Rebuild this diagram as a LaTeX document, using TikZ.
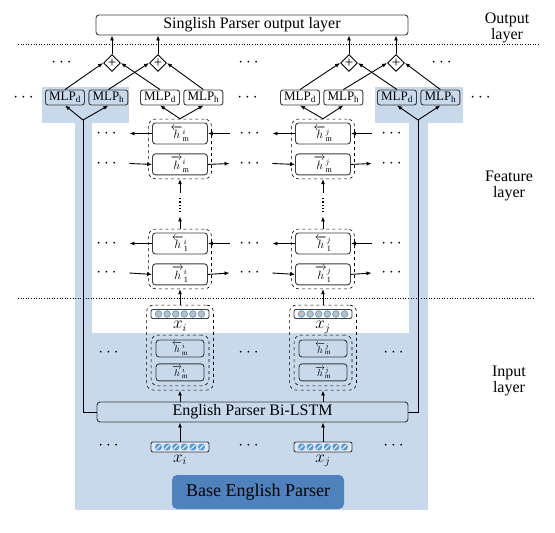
\documentclass[tikz,border=0pt]{standalone}
\usepackage{amsmath}
\usepackage{fontspec}
\setmainfont{Liberation Serif}
\usetikzlibrary{arrows.meta, positioning, fit, shapes.geometric}

\definecolor{bgblue}{RGB}{201,217,236}
\definecolor{baseblue}{RGB}{79,129,189}
\definecolor{dotblue}{RGB}{91,155,213}
\definecolor{dotgray}{RGB}{191,191,191}
\definecolor{edgegray}{RGB}{60,60,60}

\newcommand{\fsz}[1]{\fontsize{#1}{#1}\selectfont}
\newcommand{\hback}[2]{$\overleftarrow{h}^{#1}_{\mathrm{#2}}$}
\newcommand{\hfwd}[2]{$\overrightarrow{h}^{#1}_{\mathrm{#2}}$}

\begin{document}
\begin{tikzpicture}[x=1pt, y=-1pt, >={Latex[length=5pt,width=4pt]}, line width=0.9pt]
        \tikzset{
            out_box/.style={draw=edgegray, fill=white, rounded corners=3pt, minimum width=312pt, minimum height=20pt, inner sep=0pt, font=\fsz{16}},
            mlp_box/.style={draw=edgegray, rounded corners=2.5pt, minimum width=39pt, minimum height=15pt, inner sep=0pt, font=\fsz{13}},
            plus_node/.style={draw, diamond, minimum size=17pt, inner sep=0pt, font=\fsz{15}},
            h_box/.style={draw=edgegray, fill=white, rounded corners=3pt, minimum width=55pt, minimum height=21pt, inner sep=0pt, font=\fsz{12}},
            h_small/.style={h_box, fill=none, minimum width=48pt, minimum height=17pt, font=\fsz{10}},
            dash_group/.style={draw, dashed, rounded corners=7pt, line width=0.6pt},
            emb_box/.style={draw=edgegray, rounded corners=2pt, minimum width=58pt, minimum height=9pt, inner sep=0pt},
            dots/.style={inner sep=0pt, minimum width=42pt, font=\fsz{16}},
            side_label/.style={align=center, font=\fsz{16}}
        }
        \useasboundingbox (0,0) rectangle (555,533);
        % blue region of the base parser
        \fill[bgblue] (42,87) rectangle (129,123);
        \fill[bgblue] (375,87) rectangle (463,123);
        \fill[bgblue] (75,123) rectangle (428,510);
        \fill[white] (92,123) rectangle (409,333);
        \draw[dotted, line width=0.6pt] (18,44) -- (540,44);
        \draw[dotted, line width=0.6pt] (18,298) -- (535,298);

        \node[out_box] (out) at (252,25) {Singlish Parser output layer};
        \node[side_label] (lab-out) at (507,28) {Output\\layer};
        \node[side_label] (lab-feat) at (509,186) {Feature\\layer};
        \node[side_label] (lab-in) at (509,381) {Input\\layer};

        \node[plus_node] (plus-dl) at (112,63) {+};
        \node[plus_node] (plus-hl) at (158,63) {+};
        \node[plus_node] (plus-dr) at (349,63) {+};
        \node[plus_node] (plus-hr) at (396,63) {+};
        \foreach \n/\x in {bl/65, i/160, j/300, br/397} {
            \node[mlp_box] (mlpd-\n) at (\x,97.5) {MLP$_\mathrm{d}$};
            \node[mlp_box, right=3.5pt of mlpd-\n] (mlph-\n) {MLP$_\mathrm{h}$};
        }
        \draw[->] (mlpd-bl.north) -- (plus-dl.west);
        \draw[->] (mlpd-i.north) -- (plus-dl.east);
        \draw[->] (mlph-bl.north) -- (plus-hl.west);
        \draw[->] (mlph-i.north) -- (plus-hl.east);
        \draw[->] (mlpd-j.north) -- (plus-dr.west);
        \draw[->] (mlpd-br.north) -- (plus-dr.east);
        \draw[->] (mlph-j.north) -- (plus-hr.west);
        \draw[->] (mlph-br.north) -- (plus-hr.east);
        \foreach \n in {dl, hl, dr, hr}
            \draw[->] (plus-\n.north) -- (plus-\n.north |- out.south);

        % feature and input layer columns
        \foreach \c/\x in {i/180, j/323} {
            \node[h_box] (hmb-\c) at (\x,133.5) {\hback{\c}{m}};
            \node[h_box, below=9pt of hmb-\c] (hmf-\c) {\hfwd{\c}{m}};
            \node[dash_group, fit=(hmb-\c)(hmf-\c), inner sep=3.5pt] (gm-\c) {};
            \node[h_box] (h1b-\c) at (\x,243.5) {\hback{\c}{1}};
            \node[h_box, below=9pt of h1b-\c] (h1f-\c) {\hfwd{\c}{1}};
            \node[dash_group, fit=(h1b-\c)(h1f-\c), inner sep=3.5pt] (g1-\c) {};
            \node[minimum height=23pt, inner sep=0pt] (vd-\c) at (\x,204.5) {};
            \draw[dotted, line width=1.3pt, shorten <=4pt, shorten >=4pt] (vd-\c.south) -- (vd-\c.north);
            \draw[->] (g1-\c.north) -- (vd-\c.south);
            \draw[->] (vd-\c.north) -- (gm-\c.south);

            \node[emb_box, fill=white] (et-\c) at (\x,314) {};
            \foreach \k in {0,...,5}
                \draw[dotblue, fill=dotgray, line width=0.7pt] (\x-21.5+\k*8.6,314) circle (3.3pt);
            \node[font=\fsz{16}, inner sep=0pt, below=2pt of et-\c] (xt-\c) {$x_{\c}$};
            \node[h_small] (ib-\c) at (\x,348.5) {\hback{\c}{m}};
            \node[h_small, below=6pt of ib-\c] (if-\c) {\hfwd{\c}{m}};
            \node[dash_group, fit=(ib-\c)(if-\c), inner sep=4.5pt] (gi-\c) {};
            \node[dash_group, fit=(et-\c)(xt-\c)(gi-\c), inner sep=4pt] (go-\c) {};
            \draw[->] (go-\c.north) -- (g1-\c.south);

            \node[emb_box, minimum height=10pt, fill=bgblue!60!white] (eb-\c) at (\x,447) {};
            \foreach \k in {0,...,5} {
                \fill[dotblue] (\x-21.5+\k*8.6,447) circle (3.5pt);
                \draw[white, line width=0.9pt] (\x-23.3+\k*8.6,448.8) -- (\x-19.7+\k*8.6,445.2);
            }
            \node[font=\fsz{16}, inner sep=0pt, below=2pt of eb-\c] (xb-\c) {$x_{\c}$};
        }

        % horizontal recurrences
        \foreach \r/\y in {mb/133.5, mf/163.5, 1b/243.5, 1f/273} {
            \node[dots] (dl-\r) at (108,\y) {$\cdots$};
            \node[dots] (dm-\r) at (251,\y) {$\cdots$};
            \node[dots] (dr-\r) at (393,\y) {$\cdots$};
        }
        \foreach \r in {mb, 1b} {
            \draw[->] (h\r-i.west) -- (dl-\r.east);
            \draw[->] (dm-\r.west) -- (h\r-i.east);
            \draw[->] (h\r-j.west) -- (dm-\r.east);
            \draw[->] (dr-\r.west) -- (h\r-j.east);
        }
        \foreach \r in {mf, 1f} {
            \draw[->] (dl-\r.east) -- (h\r-i.west);
            \draw[->] (h\r-i.east) -- (dm-\r.west);
            \draw[->] (dm-\r.east) -- (h\r-j.west);
            \draw[->] (h\r-j.east) -- (dr-\r.west);
        }

        % remaining dots
        \node[dots] (dots-p1) at (63,63) {$\cdots$};
        \node[dots] (dots-p2) at (250,63) {$\cdots$};
        \node[dots] (dots-p3) at (443,63) {$\cdots$};
        \node[dots] (dots-m1) at (25,97.5) {$\cdots$};
        \node[dots] (dots-m2) at (249,97.5) {$\cdots$};
        \node[dots] (dots-m3) at (482,97.5) {$\cdots$};
        \node[dots] (dots-i1) at (110,353) {$\cdots$};
        \node[dots] (dots-i2) at (250,353) {$\cdots$};
        \node[dots] (dots-i3) at (395,353) {$\cdots$};
        \node[dots] (dots-b1) at (110,446) {$\cdots$};
        \node[dots] (dots-b2) at (250,446) {$\cdots$};
        \node[dots] (dots-b3) at (395,446) {$\cdots$};

        % base English parser
        \node[draw=edgegray, fill=bgblue, rounded corners=3pt, minimum width=311pt, minimum height=20pt, inner sep=0pt, font=\fsz{16}] (bilstm) at (252.5,412) {English Parser Bi-LSTM};
        \node[fill=baseblue, rounded corners=5pt, minimum width=172pt, minimum height=34pt, font=\fsz{18}] (base) at (258,492) {Base English Parser};
        \foreach \c in {i, j} {
            \draw[->] (go-\c.south |- bilstm.north) -- (go-\c.south);
            \draw[->] (eb-\c.north) -- (eb-\c.north |- bilstm.south);
        }
        \coordinate (fork-l) at (83,120);
        \coordinate (fork-r) at (418,120);
        \draw (bilstm.west) -| (fork-l);
        \draw (bilstm.east) -| (fork-r);
        \draw[->] (fork-l) -- (mlpd-bl.south);
        \draw[->] (fork-l) -- (mlph-bl.south);
        \draw[->] (fork-r) -- (mlpd-br.south);
        \draw[->] (fork-r) -- (mlph-br.south);
        \draw[->] (gm-i.north) -- (mlpd-i.south);
        \draw[->] (gm-i.north) -- (mlph-i.south);
        \draw[->] (gm-j.north) -- (mlpd-j.south);
        \draw[->] (gm-j.north) -- (mlph-j.south);
    \end{tikzpicture}
\end{document}
